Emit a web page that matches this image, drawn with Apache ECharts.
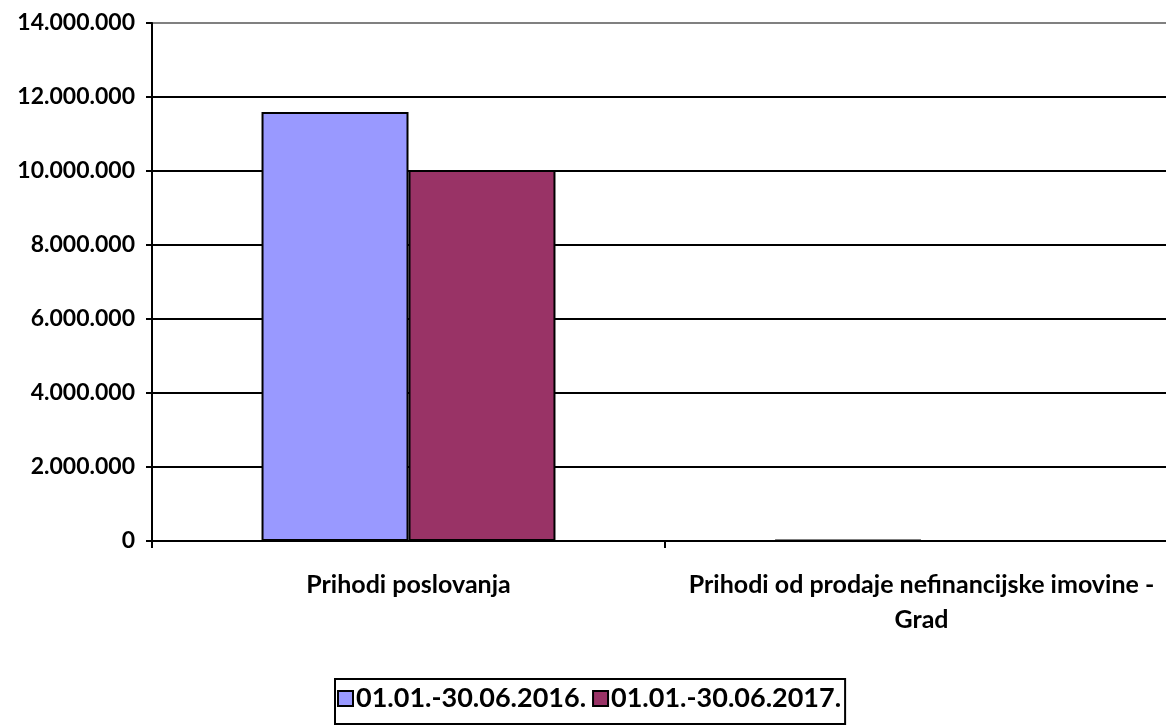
<!DOCTYPE html>
<html>
<head>
<meta charset="utf-8">
<script src="https://cdn.jsdelivr.net/npm/echarts@6/dist/echarts.min.js"></script>
<style>
  html, body { margin: 0; padding: 0; background: #fff; }
  #main { width: 1166px; height: 727px; }
</style>
</head>
<body>
<div id="main"></div>
<script>
var categories = ['Prihodi poslovanja', 'Prihodi od prodaje nefinancijske imovine -\nGrad'];
var seriesNames = ['01.01.-30.06.2016.', '01.01.-30.06.2017.'];
var values2016 = [11595000, 30000];
var values2017 = [10030000, 2000];
var yTicks = { min: 0, max: 14000000, interval: 2000000 };

var chartDom = document.getElementById('main');
var myChart = echarts.init(chartDom);
var option;

function fmt(v) {
  return String(v).replace(/\B(?=(\d{3})+(?!\d))/g, '.');
}

var font = 'Lato, "Open Sans", sans-serif';

option = {
  animation: false,
  textStyle: { fontFamily: font },
  // plot runs a bit past the right edge, like the original
  grid: { left: 152, width: 1026, top: 23, bottom: 186, outerBoundsMode: 'none', containLabel: false },
  legend: {
    top: 679,
    left: 335,
    icon: 'rect',
    itemWidth: 15,
    itemHeight: 15,
    itemGap: 6,
    padding: [6, 4, 12, 2],
    borderColor: '#000',
    borderWidth: 2,
    textStyle: { fontSize: 27, fontWeight: 'bold', color: '#000', fontFamily: font, padding: [0, 0, 0, -2] },
    data: seriesNames
  },
  xAxis: {
    type: 'category',
    data: categories,
    axisLine: { lineStyle: { color: '#000', width: 2 } },
    axisTick: { show: true, length: 7, lineStyle: { color: '#000', width: 2 } },
    axisLabel: {
      color: '#000', fontSize: 25, fontWeight: 'bold', fontFamily: font,
      margin: 26, lineHeight: 35, interval: 0
    }
  },
  yAxis: {
    type: 'value',
    min: yTicks.min,
    max: yTicks.max,
    interval: yTicks.interval,
    axisLine: { show: true, lineStyle: { color: '#000', width: 2 } },
    axisTick: { show: true, length: 6, lineStyle: { color: '#000', width: 2 } },
    axisLabel: {
      color: '#000', fontSize: 23, fontWeight: 'bold', fontFamily: font, margin: 17,
      formatter: fmt
    },
    splitLine: {
      showMinLine: false,
      lineStyle: { color: ['#000', '#000', '#000', '#000', '#000', '#000', '#808080'], width: 2 }
    }
  },
  series: [
    {
      name: seriesNames[0],
      type: 'bar',
      data: values2016,
      barGap: '0%',
      barCategoryGap: '42.7%',
      itemStyle: { color: '#9999FF', borderColor: '#000', borderWidth: 2 }
    },
    {
      name: seriesNames[1],
      type: 'bar',
      data: values2017,
      itemStyle: { color: '#993366', borderColor: '#000', borderWidth: 2 }
    }
  ]
};

option && myChart.setOption(option);
</script>
</body>
</html>
